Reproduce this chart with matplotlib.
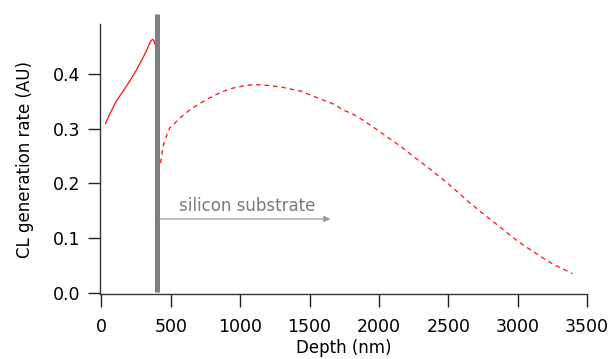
import matplotlib
matplotlib.use("Agg")
import matplotlib.pyplot as plt

# depth (nm) and CL generation rate (AU)
layer_x = [30, 45, 61, 85, 109, 150, 205, 250, 301, 330, 349, 360, 369, 378, 385]
layer_y = [0.309, 0.318, 0.327, 0.339, 0.351, 0.366, 0.387, 0.406, 0.430, 0.445,
           0.457, 0.461, 0.463, 0.461, 0.455]

subst_x = [427, 444, 468, 492, 541, 588, 636, 696, 757, 817, 889, 949, 1021, 1081,
           1153, 1225, 1297, 1369, 1442, 1520, 1600, 1682, 1741, 1809, 1869, 1929,
           1987, 2042, 2097, 2155, 2210, 2265, 2323, 2379, 2433, 2487, 2565, 2643,
           2725, 2804, 2890, 2972, 3055, 3140, 3200, 3260, 3325, 3395]
subst_y = [0.237, 0.268, 0.286, 0.301, 0.313, 0.324, 0.334, 0.344, 0.353, 0.361,
           0.369, 0.374, 0.378, 0.380, 0.380, 0.378, 0.376, 0.372, 0.368, 0.360,
           0.352, 0.344, 0.334, 0.327, 0.318, 0.308, 0.298, 0.288, 0.278, 0.268,
           0.257, 0.246, 0.235, 0.224, 0.213, 0.202, 0.185, 0.167, 0.150, 0.134,
           0.117, 0.100, 0.085, 0.071, 0.061, 0.052, 0.044, 0.035]

interface_x = 400
arrow_y = 0.135
arrow_x = [420, 1650]
xticks = [0, 500, 1000, 1500, 2000, 2500, 3000, 3500]
yticks = [0.0, 0.1, 0.2, 0.3, 0.4]

plt.rcParams['font.family'] = ['DejaVu Sans']
plt.rcParams['lines.scale_dashes'] = False

fig = plt.figure(figsize=(6.15, 3.59), dpi=100)
ax = fig.add_axes([100 / 615, 1 - 294 / 359, 487 / 615, 270 / 359])

ax.plot(layer_x, layer_y, color='#ff1a1a', lw=0.95)
ax.plot(subst_x, subst_y, color='#ff1a1a', lw=0.95, dashes=(3.3, 2.8))

# interface bar
ax.plot([interface_x, interface_x], [0.002, 0.51], color='#7f7f7f', lw=3.6,
        solid_capstyle='butt', clip_on=False, zorder=3)

ax.annotate('', xy=(arrow_x[1], arrow_y), xytext=(arrow_x[0], arrow_y),
            arrowprops=dict(arrowstyle='-|>', color='#9a9a9a', lw=0.9,
                            mutation_scale=9, shrinkA=0, shrinkB=0))
ax.text(560, 0.149, 'silicon substrate', color='#7a7a7a', fontsize=12)

ax.set_xlim(-10, 3500)
ax.set_ylim(-0.002, 0.491)
ax.set_xticks(xticks)
ax.set_yticks(yticks)
ax.set_yticklabels(['%.1f' % v for v in yticks])

for s in ['top', 'right']:
    ax.spines[s].set_visible(False)
for s in ['left', 'bottom']:
    ax.spines[s].set_color('#333333')
    ax.spines[s].set_linewidth(1.0)
ax.tick_params(axis='both', direction='out', length=9, width=1.0,
               color='#222222', labelsize=12.5, pad=5)
ax.tick_params(axis='x', pad=8)

ax.set_xlabel('Depth (nm)', fontsize=12, labelpad=2.5)
ax.set_ylabel('CL generation rate (AU)', fontsize=12, labelpad=14)

fig.savefig('out.png', dpi=100)
